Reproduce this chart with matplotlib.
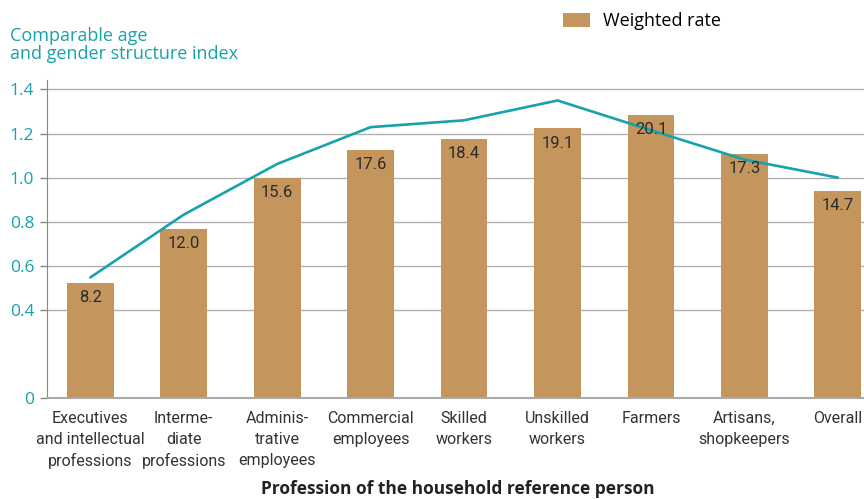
import matplotlib
matplotlib.use("Agg")
import matplotlib.pyplot as plt
import numpy as np

categories = ["Executives\nand intellectual\nprofessions", "Interme-\ndiate\nprofessions",
              "Adminis-\ntrative\nemployees", "Commercial\nemployees", "Skilled\nworkers",
              "Unskilled\nworkers", "Farmers", "Artisans,\nshopkeepers", "Overall"]
bar_index = [0.524, 0.768, 1.0, 1.127, 1.177, 1.223, 1.286, 1.109, 0.941]
weighted_rate = ["8.2", "12.0", "15.6", "17.6", "18.4", "19.1", "20.1", "17.3", "14.7"]
line_index = [0.547, 0.832, 1.062, 1.229, 1.26, 1.35, 1.215, 1.082, 1.0]
yticks = [0, 0.4, 0.6, 0.8, 1.0, 1.2, 1.4]

teal = "#17A2AC"
brown = "#C4955D"
narrow = ["Roboto", "DejaVu Sans"]
sans = ["Open Sans", "DejaVu Sans"]

fig = plt.figure(figsize=(8.64, 4.99), dpi=100)
ax = fig.add_axes([0.054, 0.2024, 0.946, 0.6373])

x = np.arange(len(categories))
ax.set_xlim(-0.467, 8.28)
ax.set_ylim(0, 1.443)

for yv in yticks[1:]:
    ax.axhline(yv, color="#AFAFAF", lw=1.0, zorder=0)

ax.bar(x, bar_index, width=0.5, color=brown, zorder=2, label="Weighted rate")
ax.plot(x, line_index, color=teal, lw=1.9, zorder=3, solid_capstyle="round")

for xi, h, t in zip(x, bar_index, weighted_rate):
    ax.text(xi, h - 0.035, t, ha="center", va="top", fontsize=12,
            color="#2B2B2B", family=narrow, zorder=4)

ax.set_yticks(yticks)
ax.set_yticklabels(["0" if v == 0 else f"{v:.1f}" for v in yticks],
                   color=teal, fontsize=12.5, family=sans)
ax.tick_params(axis="y", length=5, width=1, color="#888888", pad=4)
ax.set_xticks(x)
ax.set_xticklabels(categories, fontsize=11.5, color="#333333", family=narrow,
                   linespacing=1.5)
ax.tick_params(axis="x", length=0, pad=9)

for s in ["top", "right"]:
    ax.spines[s].set_visible(False)
ax.spines["left"].set_color("#888888")
ax.spines["bottom"].set_color("#AAAAAA")
ax.spines["bottom"].set_linewidth(1.5)

fig.text(0.012, 0.946, "Comparable age\nand gender structure index", color=teal,
         fontsize=13, va="top", ha="left", family=sans, linespacing=1.0)

ax.legend(loc="upper left", bbox_to_anchor=(0.612, 1.265), frameon=False,
          prop={"family": sans, "size": 13},
          handlelength=1.5, handleheight=0.8, handletextpad=0.7)

fig.text(0.53, 0.002, "Profession of the household reference person", ha="center",
         va="bottom", fontsize=12.5, fontweight="bold", color="#222222",
         family=sans)

fig.savefig("out.png", dpi=100)
